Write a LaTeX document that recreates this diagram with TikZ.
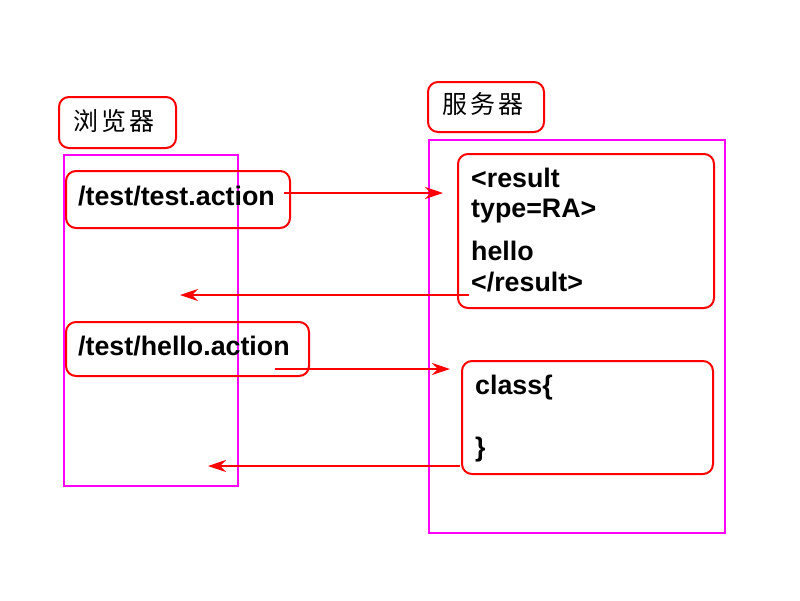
\documentclass[tikz,border=0pt]{standalone}
\usepackage{fontspec}
\setmainfont{Liberation Sans}
\newfontfamily\cjk{Noto Sans CJK SC}
\usetikzlibrary{arrows.meta}
\definecolor{mag}{RGB}{255,0,255}
\definecolor{rd}{RGB}{255,0,0}
\begin{document}
\begin{tikzpicture}[x=1pt,y=-1pt,
  redbox/.style={draw=rd, line width=2pt, rounded corners=10pt},
  magbox/.style={draw=mag, line width=2pt},
  arr/.style={draw=rd, line width=2pt, -{Stealth[length=18pt,width=12pt,inset=6pt]}},
  lbl/.style={font=\fontsize{26.8}{30}\selectfont\bfseries, anchor=base west, inner sep=0pt},
  cjklbl/.style={font=\fontsize{25}{28}\selectfont\cjk, inner sep=0pt}
]
\useasboundingbox (0,0) rectangle (800,600);
\fill[white] (0,0) rectangle (800,600);

% containers
\draw[magbox] (64,155) rectangle (238,486);
\draw[magbox] (429,140) rectangle (725,533);

% title boxes
\draw[redbox] (59,97) rectangle (176,148);
\node[cjklbl] (tb) at (114,121) {浏\hspace{3pt}览\hspace{3pt}器};
\draw[redbox] (428,82) rectangle (544,132);
\node[cjklbl] (ts) at (483,104) {服\hspace{3pt}务\hspace{3pt}器};

% browser boxes
\draw[redbox] (66,171) rectangle (290,228);
\node[lbl] (t1) at (78,205) {/test/test.action};
\draw[redbox] (66,322) rectangle (309,376);
\node[lbl] (t2) at (78,355) {/test/hello.action};

% server boxes
\draw[redbox] (458,154) rectangle (714,308);
\node[lbl] (r1) at (471,187) {<result};
\node[lbl] (r2) at (471,217) {type=RA>};
\node[lbl] (r3) at (471,260) {hello};
\node[lbl] (r4) at (471,291) {</result>};
\draw[redbox] (462,361) rectangle (713,474);
\node[lbl] (c1) at (475,394) {class\{};
\node[lbl] (c2) at (475,456) {\}};

% arrows
\coordinate (a1s) at (284,193);
\coordinate (a1e) at (443,193);
\coordinate (a2s) at (469,295);
\coordinate (a2e) at (180,295);
\coordinate (a3s) at (275,369);
\coordinate (a3e) at (450,369);
\coordinate (a4s) at (460,466);
\coordinate (a4e) at (208,466);
\draw[arr] (a1s) -- (a1e);
\draw[arr] (a2s) -- (a2e);
\draw[arr] (a3s) -- (a3e);
\draw[arr] (a4s) -- (a4e);
\end{tikzpicture}
\end{document}
